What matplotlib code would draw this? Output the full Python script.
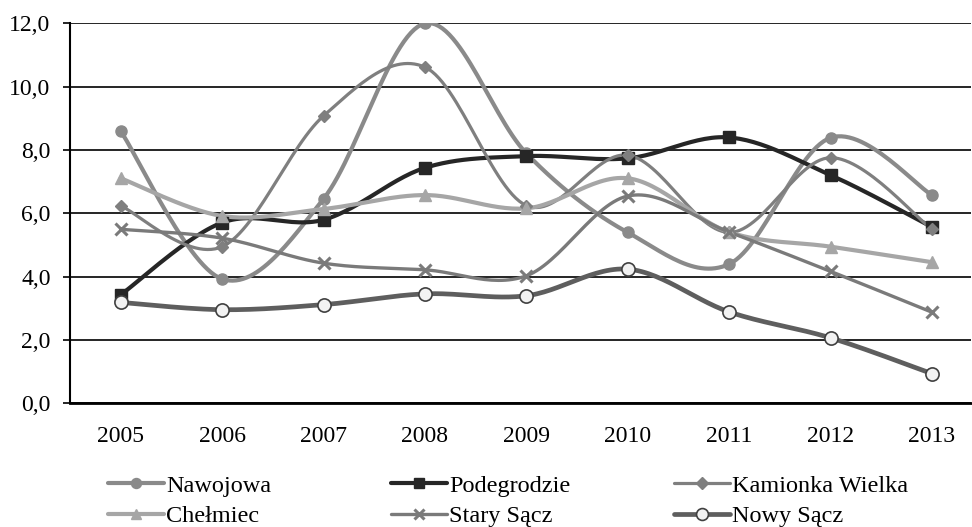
import matplotlib
matplotlib.use('Agg')
import matplotlib.pyplot as plt
from matplotlib.lines import Line2D
from matplotlib.ticker import FuncFormatter
import numpy as np

plt.rcParams['font.family'] = ['Liberation Serif', 'DejaVu Serif']

years = ['2005', '2006', '2007', '2008', '2009', '2010', '2011', '2012', '2013']

nawojowa = [8.6, 3.93, 6.46, 12.0, 7.9, 5.4, 4.4, 8.39, 6.58]
podegrodzie = [3.43, 5.71, 5.8, 7.44, 7.81, 7.74, 8.4, 7.21, 5.57]
kamionka = [6.24, 4.95, 9.08, 10.62, 6.25, 7.84, 5.4, 7.76, 5.5]
chelmiec = [7.11, 5.92, 6.14, 6.58, 6.16, 7.11, 5.41, 4.95, 4.46]
stary_sacz = [5.5, 5.22, 4.43, 4.22, 4.03, 6.55, 5.41, 4.17, 2.88]
nowy_sacz = [3.19, 2.96, 3.12, 3.46, 3.4, 4.24, 2.89, 2.07, 0.94]

names = ['Nawojowa', 'Podegrodzie', 'Kamionka Wielka', 'Chełmiec', 'Stary Sącz', 'Nowy Sącz']


def smooth(x, y, n=30):
    # Catmull-Rom style bezier, like Excel's smoothed lines
    x = np.asarray(x, float)
    y = np.asarray(y, float)
    px = np.concatenate([[x[0]], x, [x[-1]]])
    py = np.concatenate([[y[0]], y, [y[-1]]])
    xs, ys = [], []
    t = np.linspace(0, 1, n)
    for i in range(1, len(px) - 2):
        p0 = np.array([px[i], py[i]])
        p3 = np.array([px[i + 1], py[i + 1]])
        c1 = p0 + (p3 - np.array([px[i - 1], py[i - 1]])) / 6
        c2 = p3 - (np.array([px[i + 2], py[i + 2]]) - p0) / 6
        b = ((1 - t) ** 3)[:, None] * p0 + (3 * (1 - t) ** 2 * t)[:, None] * c1 \
            + (3 * (1 - t) * t ** 2)[:, None] * c2 + (t ** 3)[:, None] * p3
        xs.append(b[:, 0])
        ys.append(b[:, 1])
    return np.concatenate(xs), np.concatenate(ys)


fig = plt.figure(figsize=(9.72, 5.27), dpi=100)
ax = fig.add_axes([0.072, 0.2345, 0.927, 0.721])

x = np.arange(len(years))
styles = [
    (nawojowa, dict(color='#8a8a8a', lw=3.0, marker='o', ms=8, mfc='#8a8a8a', mec='#8a8a8a')),
    (podegrodzie, dict(color='#262626', lw=3.0, marker='s', ms=8, mfc='#262626', mec='#262626')),
    (kamionka, dict(color='#7f7f7f', lw=2.3, marker='D', ms=6.5, mfc='#7f7f7f', mec='#7f7f7f')),
    (chelmiec, dict(color='#a6a6a6', lw=3.0, marker='^', ms=8.5, mfc='#a6a6a6', mec='#a6a6a6')),
    (stary_sacz, dict(color='#7a7a7a', lw=2.4, marker='x', ms=8, mfc='#7a7a7a', mec='#7a7a7a', mew=2.2)),
    (nowy_sacz, dict(color='#5e5e5e', lw=3.4, marker='o', ms=9.5, mfc='#f2f2f2', mec='#404040', mew=1.2)),
]

handles = []
for (vals, st), name in zip(styles, names):
    sx, sy = smooth(x, vals)
    ax.plot(sx, sy, color=st['color'], lw=st['lw'], solid_capstyle='round', zorder=2)
    ax.plot(x, vals, ls='none', marker=st['marker'], ms=st['ms'], mfc=st['mfc'],
            mec=st['mec'], mew=st.get('mew', 1.0), zorder=3)
    handles.append(Line2D([], [], color=st['color'], lw=st['lw'], marker=st['marker'],
                          ms=st['ms'] * 0.9, mfc=st['mfc'], mec=st['mec'], mew=st.get('mew', 1.0),
                          solid_capstyle='round'))

ax.set_ylim(0, 12)
ax.set_yticks(np.arange(0, 12.1, 2))
ax.yaxis.set_major_formatter(FuncFormatter(lambda v, p: f'{v:.1f}'.replace('.', ',')))
ax.set_xlim(-0.5, 8.385)
ax.set_xticks(x)
ax.set_xticklabels(years)
ax.grid(axis='y', color='black', lw=1.2)
ax.set_axisbelow(True)
for s in ['top', 'right']:
    ax.spines[s].set_visible(False)
ax.spines['left'].set_linewidth(1.5)
ax.spines['bottom'].set_linewidth(2.0)
ax.tick_params(axis='y', length=5, width=1.2, labelsize=17, pad=9)
ax.tick_params(axis='x', length=0, labelsize=17, pad=16)

# legend: three columns, two rows, placed like the original
col_x = [108, 391, 674]
for c in range(3):
    hs = [handles[c], handles[c + 3]]
    ls = [names[c], names[c + 3]]
    leg = fig.legend(hs, ls, loc='center left', bbox_to_anchor=(col_x[c] / 972, 1 - 501 / 527),
                     frameon=False, fontsize=17.5, handlelength=2.3, handletextpad=0.1,
                     labelspacing=0.33, borderpad=0, borderaxespad=0)

fig.savefig('out.png', dpi=100)
